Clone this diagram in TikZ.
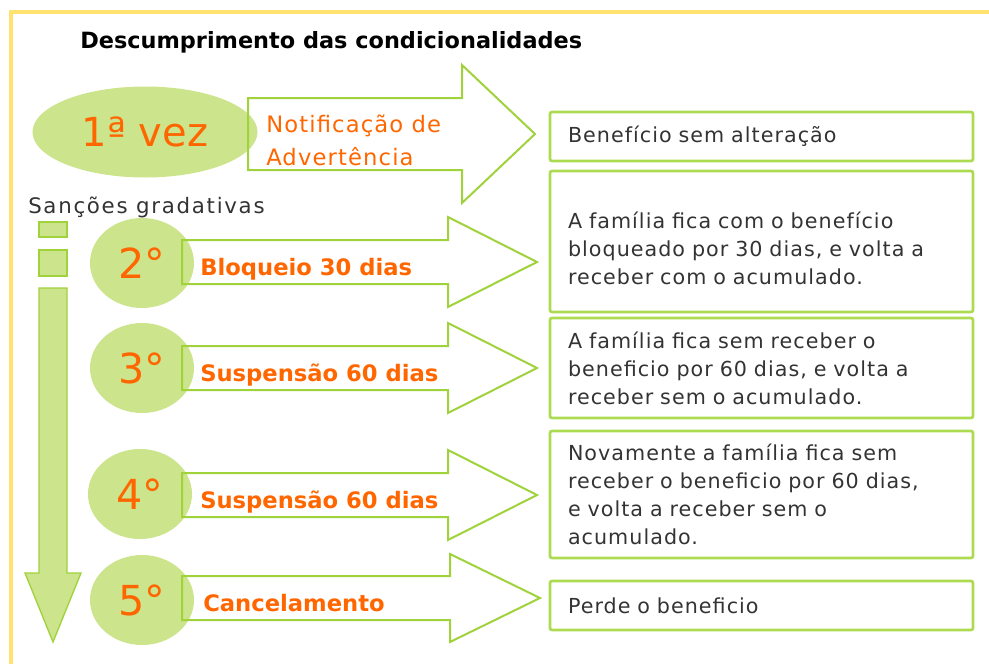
\documentclass[tikz,border=0pt]{standalone}
\usepackage{fontspec}
\setmainfont{DejaVu Sans}
\usepackage{tikz}
\usetikzlibrary{shapes.geometric}

\definecolor{leaf}{RGB}{204,228,140}
\definecolor{lime}{RGB}{160,210,60}
\definecolor{boxline}{RGB}{172,218,80}
\definecolor{tangerine}{RGB}{255,102,0}
\definecolor{gold}{RGB}{255,226,112}
\definecolor{ink}{RGB}{51,51,51}

\newcommand{\notefont}{\fontsize{15.5pt}{21pt}\selectfont\addfontfeature{LetterSpace=5}}

\begin{document}
\begin{tikzpicture}[x=0.75pt, y=-0.75pt,
    blob/.style={ellipse, fill=leaf, inner sep=0pt, text=tangerine},
    outline/.style={draw=lime, line width=1.5pt},
    steptext/.style={anchor=base west, inner sep=0pt, text=tangerine,
        font=\bfseries\fontsize{17pt}{20pt}\selectfont},
    note/.style={draw=boxline, line width=2pt, rounded corners=1.5pt,
        minimum width=317.25pt, text width=290.25pt, inner xsep=13.5pt,
        inner ysep=0pt, align=left, text=ink, font=\notefont}]
    \useasboundingbox (0,0) rectangle (989,664);

    % Frame
    \draw[gold, line width=2.5pt] (11,664) -- (11,12) -- (989,12);

    % Title
    \node[anchor=base west, inner sep=0pt, font=\bfseries\fontsize{16.8pt}{20pt}\selectfont] (title) at (80,48) {Descumprimento das condicionalidades};

    % First time
    \node[blob, minimum width=168.75pt, minimum height=68.25pt, font=\fontsize{30pt}{30pt}\selectfont] (first) at (145,132) {1ª vez};
    \draw[outline] (248,98) -- (462,98) -- (462,65) -- (535,134) -- (462,203) -- (462,170) -- (248,170) -- cycle;
    \node[anchor=base west, inner sep=0pt, align=left, text=tangerine, font=\fontsize{17pt}{24.75pt}\selectfont\addfontfeature{LetterSpace=5}] (warn) at (266,165) {Notificação de\\Advertência};

    % Gradual sanctions
    \node[anchor=base west, inner sep=0pt, text=ink, font=\fontsize{16pt}{20pt}\selectfont\addfontfeature{LetterSpace=8}] (grad) at (28,213) {Sanções gradativas};
    \draw[draw=lime, line width=1pt, fill=leaf] (39,222) rectangle (67,237);
    \draw[draw=lime, line width=1pt, fill=leaf] (39,250) rectangle (67,276);
    \draw[draw=lime, line width=1pt, fill=leaf] (39,288) -- (67,288) -- (67,573) -- (81,573) -- (53,642) -- (25,573) -- (39,573) -- cycle;

    % Steps 2 to 5
    \node[blob, minimum width=78pt, minimum height=67.5pt, font=\fontsize{31pt}{31pt}\selectfont] (s2) at (142,263) {2°};
    \node[blob, minimum width=78pt, minimum height=67.5pt, font=\fontsize{31pt}{31pt}\selectfont] (s3) at (142,368) {3°};
    \node[blob, minimum width=78pt, minimum height=67.5pt, font=\fontsize{31pt}{31pt}\selectfont] (s4) at (140,494) {4°};
    \node[blob, minimum width=78pt, minimum height=67.5pt, font=\fontsize{31pt}{31pt}\selectfont] (s5) at (142,600) {5°};

    \draw[outline] (182,240) -- (448,240) -- (448,217) -- (537,262) -- (448,307) -- (448,284) -- (182,284) -- cycle;
    \draw[outline] (182,346) -- (448,346) -- (448,323) -- (537,368) -- (448,413) -- (448,390) -- (182,390) -- cycle;
    \draw[outline] (182,473) -- (448,473) -- (448,450) -- (537,495) -- (448,540) -- (448,517) -- (182,517) -- cycle;
    \draw[outline] (182,576) -- (450,576) -- (450,554) -- (540,598) -- (450,642) -- (450,620) -- (182,620) -- cycle;

    \node[steptext] (block) at (200,275) {Bloqueio 30 dias};
    \node[steptext] (susp1) at (200,381) {Suspensão 60 dias};
    \node[steptext] (susp2) at (200,508) {Suspensão 60 dias};
    \node[steptext] (cancel) at (203,611) {Cancelamento};

    % Results
    \node[note, minimum height=36.75pt] (b1) at (761.5,136.5) {Benefício sem alteração};
    \node[note, minimum height=105.75pt, text height=23pt] (b2) at (761.5,241.5) {A família fica com o benefício\\bloqueado por 30 dias, e volta a\\receber com o acumulado.};
    \node[note, minimum height=75pt] (b3) at (761.5,368) {A família fica sem receber o\\beneficio por 60 dias, e volta a\\receber sem o acumulado.};
    \node[note, minimum height=95.25pt] (b4) at (761.5,494.5) {Novamente a família fica sem\\receber o beneficio por 60 dias,\\e volta a receber sem o\\acumulado.};
    \node[note, minimum height=36.75pt] (b5) at (761.5,605.5) {Perde o beneficio};
\end{tikzpicture}
\end{document}
